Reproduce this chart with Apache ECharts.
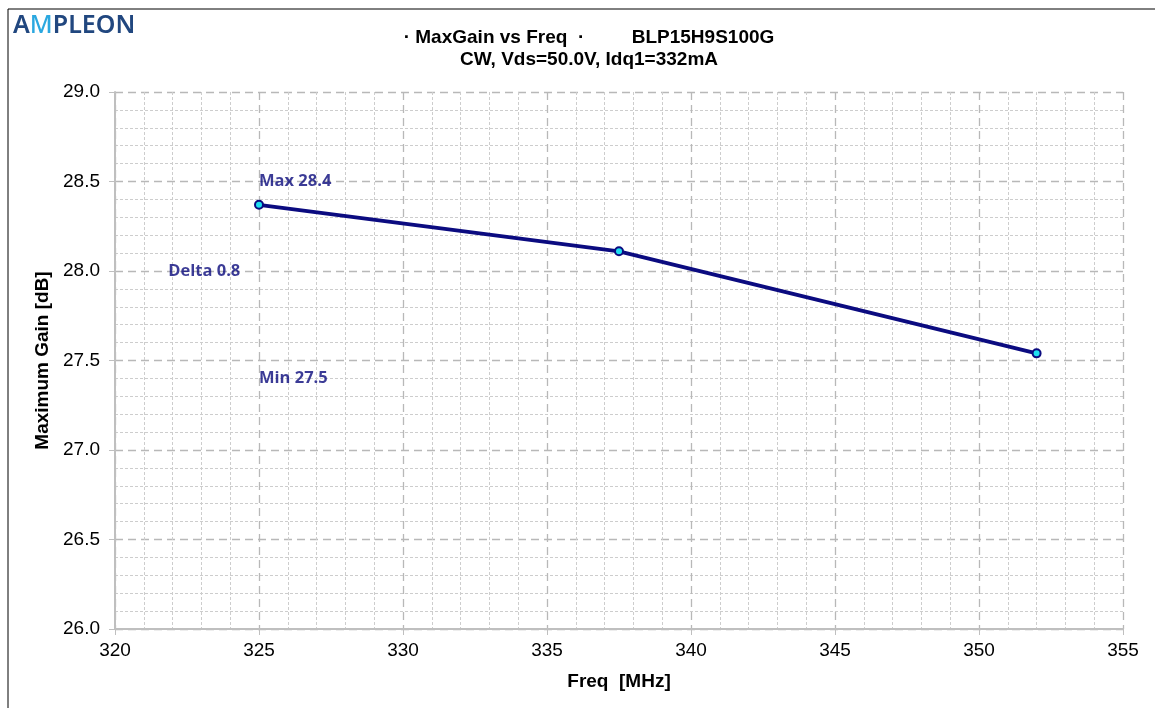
<!DOCTYPE html>
<html>
<head>
<meta charset="utf-8">
<script src="https://cdn.jsdelivr.net/npm/echarts@6/dist/echarts.min.js"></script>
<style>
  html, body { margin: 0; padding: 0; background: #fff; }
  #chart { width: 1155px; height: 708px; }
</style>
</head>
<body>
<div id="chart"></div>
<script>
// data
var freqs = [325, 337.5, 352];
var gains = [28.37, 28.11, 27.54];
var xTicks = [320, 325, 330, 335, 340, 345, 350, 355];
var yTicks = [26.0, 26.5, 27.0, 27.5, 28.0, 28.5, 29.0];
// where the summary notes sit (data coords)
var notePos = {max: [325, 28.5], delta: [321.85, 28.0], min: [325, 27.4]};

var gMax = Math.max.apply(null, gains);
var gMin = Math.min.apply(null, gains);

var chart = echarts.init(document.getElementById('chart'));

var noteData = [
    {value: notePos.max, label: {formatter: 'Max ' + gMax.toFixed(1)}},
    {value: notePos.delta, label: {formatter: 'Delta ' + (gMax - gMin).toFixed(1)}},
    {value: notePos.min, label: {formatter: 'Min ' + gMin.toFixed(1)}}
];

var titleFont = {fontFamily: 'Liberation Sans, Arial', fontSize: 19, fontWeight: 'bold', color: '#000'};

var option = {
    backgroundColor: '#fff',
    animation: false,
    title: {
        text: '\u00b7 MaxGain vs Freq  \u00b7         BLP15H9S100G\nCW, Vds=50.0V, Idq1=332mA',
        left: 584,
        top: 22,
        textAlign: 'center',
        textStyle: {
            fontFamily: 'Liberation Sans, Arial',
            fontSize: 19,
            fontWeight: 'bold',
            color: '#000',
            lineHeight: 22
        }
    },
    graphic: [
        {
            type: 'rect',
            shape: {x: 8, y: 9, width: 1160, height: 710},
            style: {fill: 'none', stroke: '#000', lineWidth: 1},
            silent: true
        },
        {
            type: 'text',
            left: 13,
            top: 13,
            style: {
                text: '{a|A}{m|M}{a|PLEON}',
                rich: {
                    a: {fontFamily: 'Noto Sans, Arial', fontSize: 25, fontWeight: 600, fill: '#21477f'},
                    m: {fontFamily: 'Noto Sans, Arial', fontSize: 25, fontWeight: 500, fill: '#2ba8e0'}
                }
            }
        }
    ],
    grid: {left: 115, right: 32, top: 92, bottom: 79},
    xAxis: {
        type: 'value',
        min: xTicks[0],
        max: xTicks[xTicks.length - 1],
        interval: 5,
        name: 'Freq  [MHz]',
        nameLocation: 'middle',
        nameGap: 43,
        nameTextStyle: titleFont,
        axisLine: {show: true, onZero: false, lineStyle: {color: '#bfbfbf', width: 2}},
        axisTick: {show: true, length: 6, lineStyle: {color: '#bfbfbf'}},
        axisLabel: {fontFamily: 'Liberation Sans, Arial', fontSize: 19, color: '#000', margin: 12},
        splitLine: {show: true, lineStyle: {color: '#b8b8b8', type: [8, 5], width: 1.3}},
        minorTick: {show: false, splitNumber: 5},
        minorSplitLine: {show: true, lineStyle: {color: '#cdcdcd', type: [3, 2], width: 1}}
    },
    yAxis: {
        type: 'value',
        min: yTicks[0],
        max: yTicks[yTicks.length - 1],
        interval: 0.5,
        name: 'Maximum Gain [dB]',
        nameLocation: 'middle',
        nameGap: 55,
        nameTextStyle: titleFont,
        axisLine: {show: true, lineStyle: {color: '#bfbfbf', width: 2}},
        axisTick: {show: true, length: 6, lineStyle: {color: '#bfbfbf'}},
        axisLabel: {
            fontFamily: 'Liberation Sans, Arial', fontSize: 19, color: '#000', margin: 15,
            formatter: function (v) { return v.toFixed(1); }
        },
        splitLine: {show: true, lineStyle: {color: '#b8b8b8', type: [8, 5], width: 1.3}},
        minorTick: {show: false, splitNumber: 5},
        minorSplitLine: {show: true, lineStyle: {color: '#cdcdcd', type: [3, 2], width: 1}}
    },
    series: [
        {
            type: 'line',
            data: freqs.map(function (f, i) { return [f, gains[i]]; }),
            symbol: 'circle',
            symbolSize: 8,
            lineStyle: {color: '#0b0b80', width: 3.8},
            itemStyle: {color: '#1ee0f0', borderColor: '#0b0b80', borderWidth: 2},
            z: 5
        },
        {
            type: 'scatter',
            data: noteData,
            symbolSize: 0,
            silent: true,
            label: {
                show: true,
                position: 'right',
                distance: 0,
                fontFamily: 'Open Sans, Lato, Arial',
                fontSize: 16.5,
                fontWeight: 'bold',
                color: '#0a0a7c'
            }
        }
    ]
};

chart.setOption(option);
</script>
</body>
</html>
